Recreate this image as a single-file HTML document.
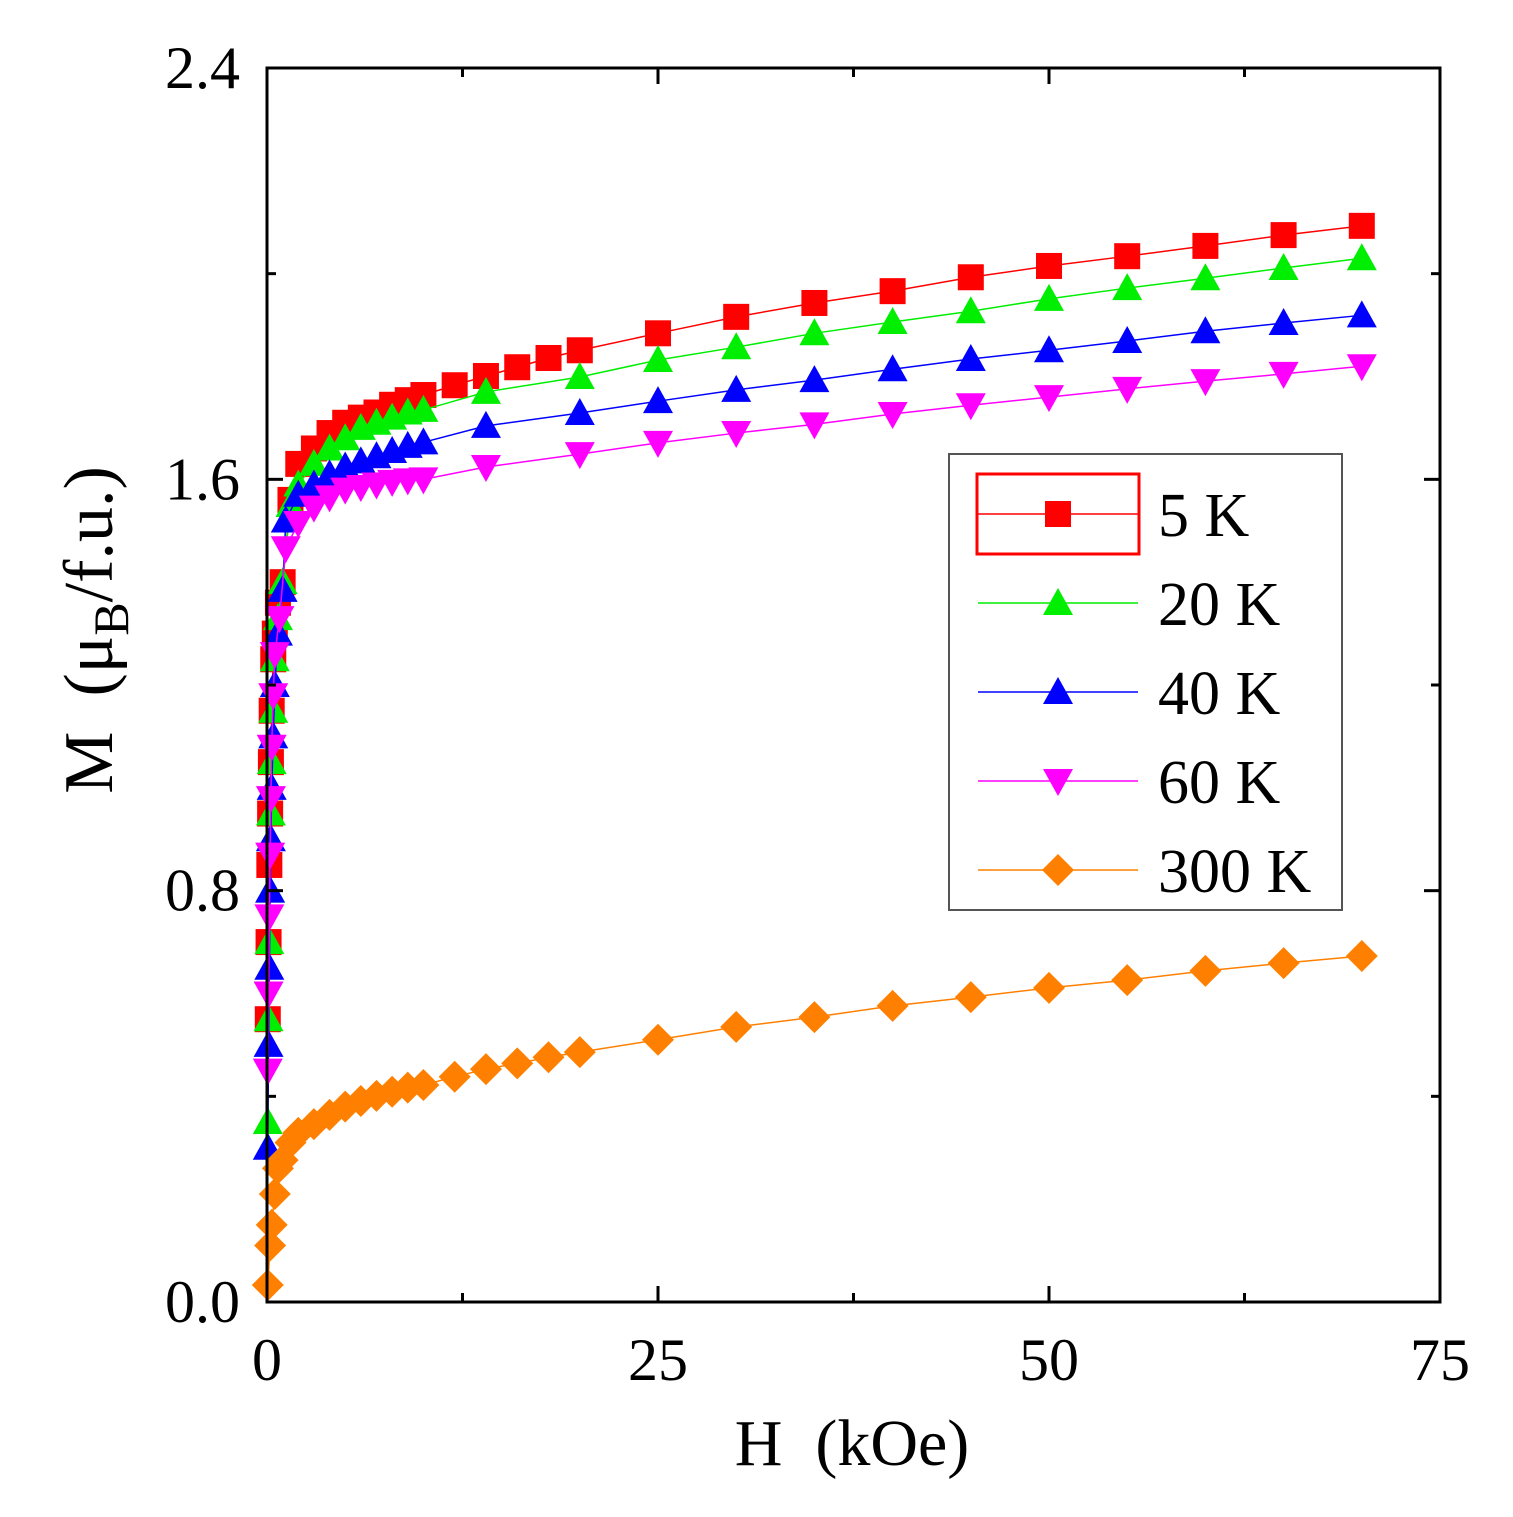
<!DOCTYPE html>
<html><head><meta charset="utf-8"><style>
html,body{margin:0;padding:0;background:#fff;}
svg{display:block;font-family:"Liberation Serif",serif;}
</style></head><body>
<svg id="chart" width="1513" height="1517" viewBox="0 0 1513 1517" xmlns="http://www.w3.org/2000/svg">
<g id="plot"></g>
</svg>
<script>
const xTicks=[0,25,50,75];
const yTicks=[0.0,0.8,1.6,2.4];
const yTickLabels=["0.0","0.8","1.6","2.4"];
const seriesNames=["5 K","20 K","40 K","60 K","300 K"];
const h5=[0.05,0.1,0.15,0.2,0.25,0.3,0.4,0.5,0.7,1.0,1.5,2,3,4,5,6,7,8,9,10,12,14,16,18,20,25,30,35,40,45,50,55,60,65,70];
const m5=[0.55,0.7,0.85,0.95,1.05,1.15,1.25,1.3,1.36,1.40,1.56,1.63,1.66,1.69,1.71,1.72,1.73,1.745,1.754,1.764,1.783,1.801,1.818,1.836,1.851,1.884,1.916,1.943,1.966,1.993,2.015,2.034,2.054,2.075,2.093];
const h20=[0.05,0.1,0.15,0.2,0.25,0.3,0.4,0.5,0.7,1.0,1.5,2,3,4,5,6,7,8,9,10,14,20,25,30,35,40,45,50,55,60,65,70];
const m20=[0.35,0.55,0.7,0.8,0.95,1.05,1.15,1.25,1.33,1.40,1.55,1.59,1.63,1.66,1.68,1.70,1.71,1.72,1.73,1.735,1.770,1.799,1.832,1.857,1.884,1.906,1.927,1.951,1.972,1.991,2.011,2.03];
const h40=[0.05,0.1,0.15,0.2,0.25,0.3,0.4,0.5,0.7,1.0,1.2,2,3,4,5,6,7,8,9,10,14,20,25,30,35,40,45,50,55,60,65,70];
const m40=[0.3,0.5,0.65,0.8,0.9,1.0,1.1,1.2,1.3,1.385,1.52,1.57,1.59,1.61,1.625,1.635,1.645,1.655,1.665,1.672,1.704,1.729,1.752,1.774,1.793,1.814,1.834,1.851,1.869,1.888,1.904,1.919];
const h60=[0.05,0.1,0.15,0.2,0.25,0.3,0.4,0.5,0.8,1.2,2,3,4,5,6,7,8,9,10,14,20,25,30,35,40,45,50,55,60,65,70];
const m60=[0.45,0.6,0.75,0.87,0.98,1.08,1.18,1.26,1.33,1.466,1.515,1.545,1.565,1.58,1.585,1.59,1.595,1.598,1.600,1.624,1.649,1.671,1.690,1.707,1.727,1.744,1.760,1.776,1.791,1.805,1.820];
const h300=[0.05,0.2,0.3,0.5,0.7,1.0,1.5,2,3,4,5,6,7,8,9,10,12,14,16,18,20,25,30,35,40,45,50,55,60,65,70];
const m300=[0.033,0.11,0.15,0.21,0.26,0.276,0.31,0.329,0.346,0.364,0.38,0.391,0.401,0.409,0.417,0.422,0.438,0.453,0.464,0.476,0.486,0.510,0.535,0.554,0.576,0.593,0.611,0.626,0.644,0.659,0.673];

const X0=267,X1=1440,Y0=1302,Y1=68;
const xs=v=>X0+(v/75)*(X1-X0);
const ys=v=>Y0-(v/2.4)*(Y0-Y1);
const NS="http://www.w3.org/2000/svg";
const svg=document.getElementById('plot');
function mk(t,a,p){const e=document.createElementNS(NS,t);for(const k in a)e.setAttribute(k,a[k]);(p||svg).appendChild(e);return e;}

function marker(kind,cx,cy,col,g){
  const s=13;
  if(kind==='sq') return mk('rect',{x:cx-s,y:cy-s,width:2*s,height:2*s,fill:col},g);
  if(kind==='up') return mk('polygon',{points:`${cx},${cy-s-2} ${cx+s+2},${cy+s-1} ${cx-s-2},${cy+s-1}`,fill:col},g);
  if(kind==='dn') return mk('polygon',{points:`${cx},${cy+s+2} ${cx+s+2},${cy-s+1} ${cx-s-2},${cy-s+1}`,fill:col},g);
  return mk('polygon',{points:`${cx},${cy-s-3} ${cx+s+3},${cy} ${cx},${cy+s+3} ${cx-s-3},${cy}`,fill:col},g);
}
const series=[
 {h:h5,m:m5,c:'#ff0000',k:'sq',n:'series-5k'},
 {h:h20,m:m20,c:'#00ee00',k:'up',n:'series-20k'},
 {h:h40,m:m40,c:'#0000ff',k:'up',n:'series-40k'},
 {h:h60,m:m60,c:'#ff00ff',k:'dn',n:'series-60k'},
 {h:h300,m:m300,c:'#ff8000',k:'di',n:'series-300k'}
];
series.forEach(s=>{
  const g=mk('g',{});
  
  
  const pts=s.h.map((h,j)=>xs(h)+','+ys(s.m[j])).join(' ');
  mk('polyline',{points:pts,fill:'none',stroke:s.c,'stroke-width':1.5},g);
  s.h.forEach((h,j)=>{
    const p=marker(s.k,xs(h),ys(s.m[j]),s.c,g);
    
    
  });
});

const fr=mk('rect',{x:X0,y:Y1,width:X1-X0,height:Y0-Y1,fill:'none',stroke:'#000','stroke-width':3});


for(let v=0;v<=75;v+=12.5){
  const L=(v%25===0)?16:9;
  mk('line',{x1:xs(v),y1:Y0,x2:xs(v),y2:Y0-L,stroke:'#000','stroke-width':3});
  mk('line',{x1:xs(v),y1:Y1,x2:xs(v),y2:Y1+L,stroke:'#000','stroke-width':3});
}
for(let i=0;i<=6;i++){
  const v=i*0.4;const L=(i%2===0)?16:9;
  mk('line',{x1:X0,y1:ys(v),x2:X0+L,y2:ys(v),stroke:'#000','stroke-width':3});
  mk('line',{x1:X1,y1:ys(v),x2:X1-L,y2:ys(v),stroke:'#000','stroke-width':3});
}
xTicks.forEach(v=>{
  const t=mk('text',{x:xs(v),y:1380,'font-size':60,'text-anchor':'middle',fill:'#000'});
  t.textContent=v;
  
  
});
yTicks.forEach((v,i)=>{
  const t=mk('text',{x:240,y:ys(v)+20,'font-size':60,'text-anchor':'end',fill:'#000'});
  t.textContent=yTickLabels[i];
  
  
});
const xt=mk('text',{x:852,y:1465,'font-size':66,'text-anchor':'middle',fill:'#000'});
xt.textContent='H\u00a0\u00a0(kOe)';


const yt=mk('text',{x:0,y:0,'font-size':70,'text-anchor':'middle',fill:'#000',transform:'translate(112,630) rotate(-90)'});
yt.innerHTML='M\u00a0\u00a0(μ<tspan font-size="50" dy="16">B</tspan><tspan dy="-16">/f.u.)</tspan>';



const lg=mk('g',{});


mk('rect',{x:949,y:454,width:393,height:456,fill:'#fff',stroke:'#555','stroke-width':2},lg);
series.forEach((s,i)=>{
  const cy=514+i*89;
  const e=mk('g',{},lg);
  
  
  mk('line',{x1:978,y1:cy,x2:1138,y2:cy,stroke:s.c,'stroke-width':1.5},e);
  marker(s.k,1058,cy,s.c,e);
  const t=mk('text',{x:1158,y:cy+22,'font-size':62,fill:'#000'},e);
  t.textContent=seriesNames[i];
});
mk('rect',{x:977,y:474,width:162,height:80,fill:'none',stroke:'#ff0000','stroke-width':3},lg);
</script>
</body></html>
